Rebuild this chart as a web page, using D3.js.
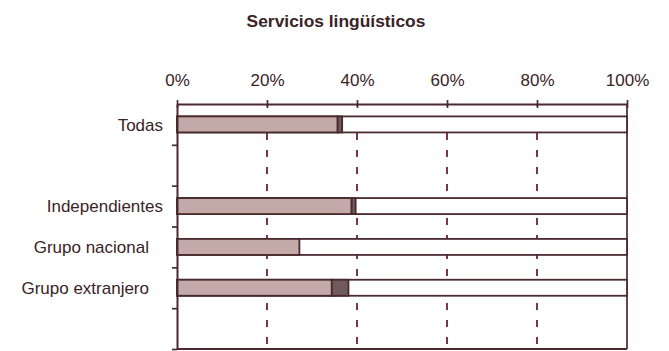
<!DOCTYPE html>
<html>
<head>
<meta charset="utf-8">
<script src="https://cdn.jsdelivr.net/npm/d3@7"></script>
<style>
  html, body { margin: 0; padding: 0; background: #fff; }
  svg { display: block; font-family: "Liberation Sans", Arial, sans-serif; }
</style>
</head>
<body>
<svg id="chart" width="669" height="351"></svg>
<script>
// Rows of the chart (empty strings are spacer rows)
const categories = ["Todas", "", "Independientes", "Grupo nacional", "Grupo extranjero", ""];
// Share (%) in the first, light segment
const shareMain = [35.7, null, 38.8, 27.2, 34.4, null];
// Share (%) in the second, dark segment
const sharePartial = [1.0, null, 0.9, 0.0, 3.7, null];
// Axis ticks
const tickValues = [0, 20, 40, 60, 80, 100];
const tickLabels = ["0%", "20%", "40%", "60%", "80%", "100%"];

(function draw() {
  const svg = d3.select("#chart");
  const ink = "#4a2a2e";
  const textColor = "#3a2326";

  const plotLeft = 177, plotRight = 627, plotTop = 104, plotBottom = 349;
  // Right edge of each row label (the group rows sit a little further left)
  const labelEdge = [163, 0, 163, 149, 149, 0];

  const x = d3.scaleLinear().domain([0, 100]).range([plotLeft, plotRight]);
  const y = d3.scaleBand()
    .domain(d3.range(categories.length))
    .range([plotTop, plotBottom])
    .paddingInner(0.608)
    .paddingOuter(0.304);
  const yEdge = d3.scaleLinear().domain([0, categories.length]).range([plotTop, plotBottom]);

  // Title
  svg.append("text")
    .attr("x", 336).attr("y", 27)
    .attr("text-anchor", "middle")
    .attr("font-size", 17.4).attr("font-weight", "bold")
    .attr("fill", textColor)
    .text("Servicios lingüísticos");

  // Dashed vertical gridlines
  svg.append("g").selectAll("line")
    .data(tickValues.filter(d => d > 0 && d < 100))
    .join("line")
    .attr("x1", d => x(d)).attr("x2", d => x(d))
    .attr("y1", plotTop).attr("y2", plotBottom)
    .attr("stroke", "#6e2232").attr("stroke-width", 1.8)
    .attr("stroke-dasharray", "7,10")
    .attr("stroke-dashoffset", 5);

  // Right border and bottom line
  svg.append("line")
    .attr("x1", x(100)).attr("x2", x(100)).attr("y1", plotTop).attr("y2", plotBottom)
    .attr("stroke", ink).attr("stroke-width", 1.7);
  svg.append("line")
    .attr("x1", plotLeft).attr("x2", x(100)).attr("y1", plotBottom).attr("y2", plotBottom)
    .attr("stroke", ink).attr("stroke-width", 2);

  // Bars
  const rows = categories.map((c, i) => ({ i, c, a: shareMain[i], b: sharePartial[i] }))
    .filter(r => r.a !== null);
  const bars = svg.append("g").selectAll("g").data(rows).join("g");
  bars.append("rect")
    .attr("x", x(0)).attr("width", x(100) - x(0))
    .attr("y", r => y(r.i)).attr("height", y.bandwidth())
    .attr("fill", "#fff").attr("stroke", ink).attr("stroke-width", 1.8);
  bars.append("rect")
    .attr("x", x(0)).attr("width", r => x(r.a) - x(0))
    .attr("y", r => y(r.i)).attr("height", y.bandwidth())
    .attr("fill", "#c3aaa8").attr("stroke", ink).attr("stroke-width", 1.8);
  bars.filter(r => r.b > 0).append("rect")
    .attr("x", r => x(r.a)).attr("width", r => x(r.a + r.b) - x(r.a))
    .attr("y", r => y(r.i)).attr("height", y.bandwidth())
    .attr("fill", "#6f5a5e").attr("stroke", ink).attr("stroke-width", 1.8);

  // Top axis
  const xAxis = svg.append("g")
    .attr("transform", `translate(0,${plotTop})`)
    .call(d3.axisTop(x).tickValues(tickValues)
      .tickFormat((d, i) => tickLabels[i])
      .tickSizeInner(3).tickSizeOuter(0).tickPadding(15));
  xAxis.select(".domain").attr("stroke", ink).attr("stroke-width", 2);
  xAxis.selectAll(".tick line").attr("y1", 4).attr("y2", -4)
    .attr("stroke", ink).attr("stroke-width", 1.7);
  xAxis.selectAll(".tick text").attr("font-size", 17).attr("fill", textColor)
    .attr("font-family", "Liberation Sans, Arial, sans-serif");

  // Left axis with ticks at row boundaries
  const yAxis = svg.append("g")
    .attr("transform", `translate(${plotLeft},0)`)
    .call(d3.axisLeft(yEdge).tickValues(d3.range(1, categories.length + 1))
      .tickFormat("").tickSizeInner(5).tickSizeOuter(0));
  yAxis.select(".domain").attr("stroke", ink).attr("stroke-width", 2);
  yAxis.selectAll(".tick line").attr("stroke", ink).attr("stroke-width", 1.7);

  // Row labels
  svg.append("g").selectAll("text")
    .data(categories.map((c, i) => ({ c, i })).filter(d => d.c))
    .join("text")
    .attr("x", d => labelEdge[d.i])
    .attr("y", d => y(d.i) + y.bandwidth() / 2)
    .attr("dy", "0.36em")
    .attr("text-anchor", "end")
    .attr("font-size", 17)
    .attr("fill", textColor)
    .text(d => d.c);
})();
</script>
</body>
</html>
